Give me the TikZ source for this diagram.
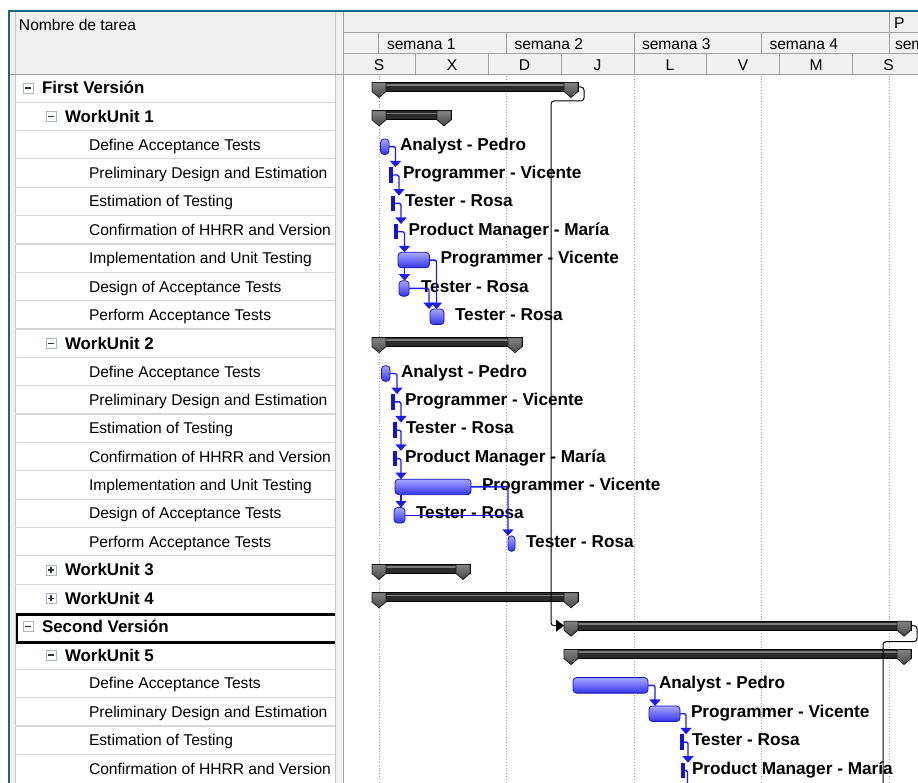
\documentclass[tikz,border=0pt]{standalone}
\usepackage{fontspec}
\setmainfont{Liberation Sans}
\usetikzlibrary{arrows.meta,calc}

\definecolor{frameteal}{HTML}{16677F}
\definecolor{headbg}{HTML}{F0F0F0}
\definecolor{headline}{HTML}{A0A0A0}
\definecolor{rowline}{HTML}{D6D6D6}
\definecolor{dotgray}{HTML}{A8A8A8}
\definecolor{taskblue}{HTML}{3434F2}
\definecolor{tasktop}{HTML}{A8A8FF}
\definecolor{taskedge}{HTML}{1515B5}
\definecolor{thinblue}{HTML}{1212D8}
\definecolor{linkblue}{HTML}{1C1CF0}
\definecolor{sumdark}{HTML}{2A2A2A}
\definecolor{sumlight}{HTML}{7E7E7E}
\definecolor{boxedge}{HTML}{A9B6C4}

% summary bar: name, start mark x, end mark x, row
\newcommand\ganttsum[4]{%
  \pgfmathsetmacro\gy{88+28.35*(#4)-1}%
  \pgfmathsetmacro\gx{(#2+#3)/2}%
  \pgfmathsetmacro\gw{#3-#2+14}%
  \node[sumbar, minimum width=\gw pt] (#1) at (\gx,\gy) {};
  \draw[sumhi] ($(#1.north west)+(3,2.6)$) -- ($(#1.north east)+(-3,2.6)$);
  \draw[sumcap] (#1.north west) -- ++(14,0) -- ++(0,9) -- ++(-7,6) -- ++(-7,-6) -- cycle;
  \draw[sumcap] (#1.north east) -- ++(-14,0) -- ++(0,9) -- ++(7,6) -- ++(7,-6) -- cycle;
}
% task bar: style, name, start x, end x, row, label gap, label
\newcommand\gtask[7]{%
  \pgfmathsetmacro\gy{88+28.35*(#5)+2}%
  \pgfmathsetmacro\gx{(#3+#4)/2}%
  \pgfmathsetmacro\gw{#4-#3}%
  \node[#1, minimum width=\gw pt] (#2) at (\gx,\gy) {};
  \path (#2.east) ++(#6,3.6) node[barlabel] (#2l) {#7};
}

\begin{document}
\begin{tikzpicture}[x=1pt,y=-1pt,
  every node/.style={inner sep=0pt, outer sep=0pt},
  hdrtext/.style={font=\fontsize{15.6}{18}\selectfont, anchor=base west},
  daytext/.style={font=\fontsize{15.6}{18}\selectfont, anchor=base},
  tasktext/.style={font=\fontsize{15.6}{18}\selectfont, anchor=base west},
  grouptext/.style={font=\fontsize{16.9}{20}\selectfont\bfseries, anchor=base west},
  barlabel/.style={font=\fontsize{17.2}{20}\selectfont\bfseries, anchor=base west},
  xbox/.style={draw=boxedge, fill=white, line width=0.8pt, minimum size=10pt},
  boxsign/.style={draw=black!80, line width=1.1pt},
  hline/.style={draw=headline, line width=1pt},
  rowsep/.style={draw=rowline, line width=1.2pt},
  dotline/.style={draw=dotgray, line width=0.8pt, dotted},
  sumbar/.style={rectangle, draw=black, line width=0.9pt, fill=sumdark, minimum height=9pt},
  sumhi/.style={draw=sumlight, line width=1.6pt},
  sumcap/.style={draw=black!90, line width=0.8pt, top color=black!48, bottom color=black!72},
  task/.style={rectangle, rounded corners=3.5pt, minimum height=15.5pt, draw=taskedge,
    line width=0.8pt, top color=tasktop, bottom color=taskblue},
  thin/.style={rectangle, minimum height=15.5pt, fill=thinblue},
  link/.style={draw=linkblue, line width=1.4pt, rounded corners=1.5pt,
    -{Triangle[width=11pt,length=6.5pt]}},
  linkplain/.style={draw=linkblue, line width=1.4pt, rounded corners=1.5pt},
  biglink/.style={draw=black, line width=1pt, rounded corners=3pt,
    -{Triangle[width=12pt,length=8pt]}},
  biglinkplain/.style={draw=black, line width=1pt, rounded corners=3pt}
]
\useasboundingbox (0,0) rectangle (918,783);
\clip (0,0) rectangle (918,783);

% ---------- panels and headers ----------
\fill[white] (0,0) rectangle (918,783);
\fill[headbg] (10,12) rectangle (918,75);
\fill[headbg] (10,12) rectangle (15,783);
\fill[headbg] (335,12) rectangle (343,783);
\draw[draw=black!22, line width=1pt] (15,12) -- (15,783);
\draw[draw=black!22, line width=1pt] (335,12) -- (335,783);
\draw[hline] (343.5,12) -- (343.5,783);
\draw[hline] (10,75) -- (918,75);
\draw[hline] (343.5,33) -- (918,33);
\draw[hline] (343.5,54) -- (918,54);
\draw[hline] (889,12) -- (889,33);
\foreach \x in {378.5,506,634,761,889} \draw[hline] (\x,33) -- (\x,54);
\foreach \x in {415.5,488.5,561,634,706.5,779.5,852} \draw[hline] (\x,54) -- (\x,75);
\draw[draw=frameteal, line width=2pt] (8.5,783) -- (8.5,11.5) -- (918,11.5);

\node[hdrtext] (hname) at (19,30.8) {Nombre de tarea};
\node[hdrtext] (hp) at (894,28.6) {P};
\node[hdrtext] (w1) at (387,49.6) {semana 1};
\node[hdrtext] (w2) at (514.5,49.6) {semana 2};
\node[hdrtext] (w3) at (642,49.6) {semana 3};
\node[hdrtext] (w4) at (769.5,49.6) {semana 4};
\begin{scope}
  \clip (889,33) rectangle (918,54);
  \node[hdrtext] (w5) at (895,49.6) {semana 5};
\end{scope}
\foreach \x/\d [count=\n] in {379/S,452/X,524.5/D,597.5/J,670/L,743/V,816/M,888.5/S}
  \node[daytext] (day\n) at (\x,70.2) {\d};

% ---------- task name column ----------
\foreach \i in {0,...,17,20,21,22,23}
  \draw[rowsep] (15,{102.2+28.35*\i}) -- (335,{102.2+28.35*\i});
\draw[black, line width=3pt] (16,614.5) -- (335,614.5);
\draw[black, line width=3pt] (16,642.5) -- (335,642.5);
\draw[black, line width=2pt] (17,613) -- (17,644);

\begin{scope}
\clip (15,76) rectangle (335,783);
\foreach \r/\t in {0/First Versión,19/Second Versión}
  \node[grouptext] (grp\r) at (42,{88+28.35*\r+6}) {\t};
\foreach \r/\t in {1/WorkUnit 1,9/WorkUnit 2,17/WorkUnit 3,18/WorkUnit 4,20/WorkUnit 5}
  \node[grouptext] (wu\r) at (65,{88+28.35*\r+6}) {\t};
\foreach \r/\t in {2/Define Acceptance Tests,3/Preliminary Design and Estimation,
    4/Estimation of Testing,5/Confirmation of HHRR and Version,
    6/Implementation and Unit Testing,7/Design of Acceptance Tests,
    8/Perform Acceptance Tests,
    10/Define Acceptance Tests,11/Preliminary Design and Estimation,
    12/Estimation of Testing,13/Confirmation of HHRR and Version,
    14/Implementation and Unit Testing,15/Design of Acceptance Tests,
    16/Perform Acceptance Tests,
    21/Define Acceptance Tests,22/Preliminary Design and Estimation,
    23/Estimation of Testing,24/Confirmation of HHRR and Version}
  \node[tasktext] (task\r) at (89,{88+28.35*\r+5.6}) {\t};
% outline expand / collapse boxes
\foreach \r/\x in {0/28,19/28,1/51,9/51,20/51} {
  \node[xbox] (bx\r) at (\x,{88+28.35*\r}) {};
  \draw[boxsign] ($(bx\r.center)+(-3,0)$) -- ($(bx\r.center)+(3,0)$);
}
\foreach \r in {17,18} {
  \node[xbox] (bx\r) at (51,{88+28.35*\r}) {};
  \draw[boxsign] ($(bx\r.center)+(-3,0)$) -- ($(bx\r.center)+(3,0)$);
  \draw[boxsign] ($(bx\r.center)+(0,-3)$) -- ($(bx\r.center)+(0,3)$);
}
\end{scope}

% ---------- timeline ----------
\foreach \x in {379,506,634,761,889} \draw[dotline] (\x,76) -- (\x,783);

\ganttsum{s0}{379}{571}{0}
\ganttsum{s1}{379}{444}{1}
\ganttsum{s9}{379}{515}{9}
\ganttsum{s17}{379}{463}{17}
\ganttsum{s18}{379}{571}{18}
\ganttsum{s19}{571}{904}{19}
\ganttsum{s20}{571}{904}{20}

% WorkUnit 1
\gtask{task}{a2}{380.5}{389}{2}{11}{Analyst - Pedro}
\gtask{thin}{a3}{388.5}{393}{3}{10}{Programmer - Vicente}
\gtask{thin}{a4}{391}{395}{4}{10}{Tester - Rosa}
\gtask{thin}{a5}{393.5}{397.5}{5}{11}{Product Manager - María}
\gtask{task}{a6}{398}{429.5}{6}{11}{Programmer - Vicente}
\gtask{task}{a7}{399}{409}{7}{12}{Tester - Rosa}
\gtask{task}{a8}{430}{444}{8}{11}{Tester - Rosa}

% WorkUnit 2
\gtask{task}{b10}{381.5}{390}{10}{11}{Analyst - Pedro}
\gtask{thin}{b11}{391}{395}{11}{10}{Programmer - Vicente}
\gtask{thin}{b12}{393}{397}{12}{9}{Tester - Rosa}
\gtask{thin}{b13}{393}{397}{13}{8}{Product Manager - María}
\gtask{task}{b14}{395}{471}{14}{11}{Programmer - Vicente}
\gtask{task}{b15}{394}{405}{15}{11}{Tester - Rosa}
\gtask{task}{b16}{508}{515}{16}{11}{Tester - Rosa}

% WorkUnit 5
\gtask{task}{c21}{573}{648}{21}{11}{Analyst - Pedro}
\gtask{task}{c22}{649}{680}{22}{11}{Programmer - Vicente}
\gtask{thin}{c23}{680}{684}{23}{8}{Tester - Rosa}
\gtask{thin}{c24}{681}{685}{24}{7}{Product Manager - María}

% ---------- dependency links ----------
\draw[link] (a2.east) -- ++(6.5,0) coordinate (k) -- (k |- a3.north);
\draw[link] (a3.east) -- ++(6,0) coordinate (k) -- (k |- a4.north);
\draw[link] (a4.east) -- ++(6,0) coordinate (k) -- (k |- a5.north);
\draw[link] (a5.east) -- ++(7,0) coordinate (k5) -- (k5 |- a6.north);
\draw[link] (k5 |- a6.south) -- (k5 |- a7.north);
\draw[link] (a6.east) -- ++(7,0) coordinate (k) -- (k |- a8.north);
\draw[link] (a7.east) -- ($(a8.west |- a7.east)+(-1,0)$) coordinate (k) -- (k |- a8.north);

\draw[link] (b10.east) -- ++(7,0) coordinate (k) -- (k |- b11.north);
\draw[link] (b11.east) -- ++(6,0) coordinate (k) -- (k |- b12.north);
\draw[link] (b12.east) -- ++(4,0) coordinate (k) -- (k |- b13.north);
\draw[link] (b13.east) -- ++(4,0) coordinate (k13) -- (k13 |- b14.north);
\draw[link] (k13 |- b14.south) -- (k13 |- b15.north);
\draw[link] (b14.east) -- (b16.west |- b14.east) coordinate (k) -- (k |- b16.north);
\draw[linkplain] (b15.east) -- (b16.west |- b15.east);

\coordinate (bottomedge) at (0,800);
\draw[link] (c21.east) -- ++(7,0) coordinate (k) -- (k |- c22.north);
\draw[link] (c22.east) -- ++(6,0) coordinate (k) -- (k |- c23.north);
\draw[link] (c23.east) -- ++(4,0) coordinate (k) -- (k |- c24.north);
\draw[linkplain] (c24.east) -- ++(2.5,0) coordinate (k) -- (k |- bottomedge);

% version to version links
\coordinate (drop1) at (551,0);
\coordinate (drop2) at (883,800);
\draw[biglink] (s0.east) -- ++(6,0) -- ++(0,14) coordinate (q) -- (q -| drop1)
  -- (drop1 |- s19.west) -- (s19.west);
\draw[biglinkplain] (s19.east) -- ++(6,0) -- ++(0,16) coordinate (q) -- (q -| drop2) -- (drop2);
\end{tikzpicture}
\end{document}
